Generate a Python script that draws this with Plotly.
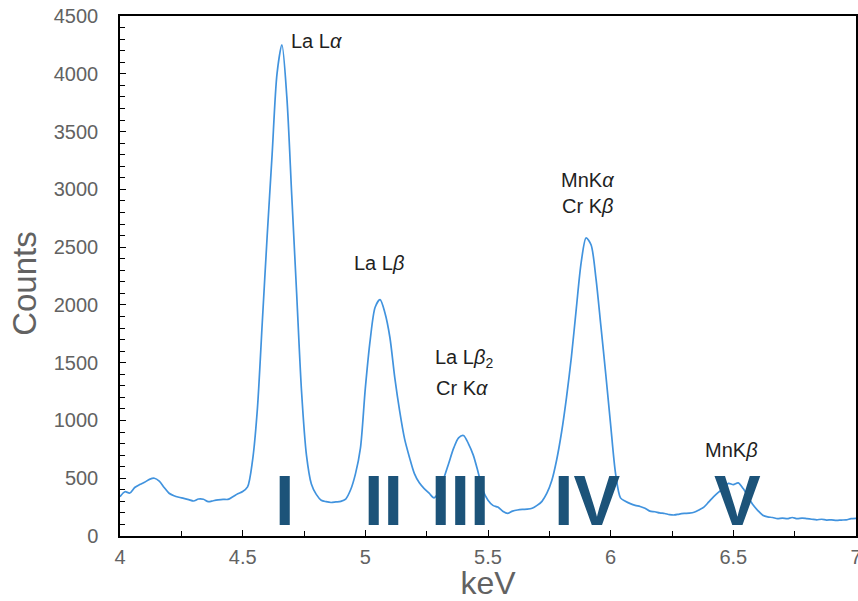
import plotly.graph_objects as go

# Energy grid (keV), sampled every 0.02 keV from 4.00 to 7.00
energy = [round(4.0 + 0.02 * i, 2) for i in range(151)]

# Counts
counts = [
    340, 383, 372, 420, 445, 465, 490, 500, 475, 420,      # 4.00-4.18
    370, 348, 335, 326, 315, 303, 320, 318, 297, 305,      # 4.20-4.38
    312, 317, 317, 340, 365, 385, 425, 650, 1100, 1850,    # 4.40-4.58
    2600, 3300, 4000, 4250, 3800, 2950, 2100, 1250, 700, 450,  # 4.60-4.78
    360, 310, 297, 290, 295, 300, 320, 400, 540, 760,      # 4.80-4.98
    1280, 1700, 1980, 2045, 1930, 1720, 1370, 1080, 840, 680,  # 5.00-5.18
    540, 460, 410, 370, 330, 385, 500, 630, 760, 850,      # 5.20-5.38
    870, 800, 700, 550, 390, 310, 265, 250, 215, 196,      # 5.40-5.58
    215, 225, 230, 232, 240, 265, 300, 370, 480, 660,      # 5.60-5.78
    900, 1200, 1550, 1970, 2370, 2580, 2520, 2230, 1820, 1400,  # 5.80-5.98
    960, 540, 330, 300, 280, 265, 255, 240, 215, 210,      # 6.00-6.18
    200, 195, 185, 182, 190, 195, 198, 205, 225, 250,      # 6.20-6.38
    295, 340, 380, 410, 455, 445, 460, 410, 340, 270,      # 6.40-6.58
    220, 180, 165, 160, 150, 155, 150, 160, 150, 155,      # 6.60-6.78
    150, 145, 140, 145, 138, 140, 135, 138, 140, 150,      # 6.80-6.98
    153,                                                   # 7.00
]

# Region numerals
region_labels = ["I", "II", "III", "IV", "V"]
region_x = [4.669, 5.074, 5.386, 5.904, 6.515]
region_y = [300, 300, 300, 300, 300]

# Peak labels
peak_labels = ["La L<i>α</i>", "La L<i>β</i>", "La L<i>β</i><sub>2</sub>", "Cr K<i>α</i>",
               "MnK<i>α</i>", "Cr K<i>β</i>", "MnK<i>β</i>"]
peak_x = [4.690, 5.056, 5.402, 5.394, 5.906, 5.904, 6.494]
peak_y = [4282, 2362, 1540, 1280, 3080, 2855, 744]
peak_anchor = ["left", "center", "center", "center", "center", "center", "center"]

FONT = "Liberation Sans, Arial, sans-serif"
GREY = "#626262"

fig = go.Figure()
fig.add_trace(go.Scatter(
    x=energy, y=counts, mode="lines",
    line=dict(color="#4193de", width=1.7, shape="spline", smoothing=0.8),
    showlegend=False, hoverinfo="skip",
))

for t, xv, yv in zip(region_labels, region_x, region_y):
    fig.add_annotation(x=xv, y=yv, text=t, showarrow=False,
                       xanchor="center", yanchor="middle",
                       font=dict(family=FONT, size=70, color="#1c5379", weight="bold"))

for t, xv, yv, a in zip(peak_labels, peak_x, peak_y, peak_anchor):
    fig.add_annotation(x=xv, y=yv, text=t, showarrow=False,
                       xanchor=a, yanchor="middle",
                       font=dict(family=FONT, size=20, color="#1f1f1f"))

# y-axis title placed as a rotated label left of the tick labels
fig.add_annotation(x=-0.129, y=0.485, xref="paper", yref="paper", text="Counts",
                   textangle=-90, showarrow=False, xanchor="center", yanchor="middle",
                   font=dict(family=FONT, size=33, color=GREY))

axis_common = dict(
    showline=True, linecolor="black", linewidth=1.5, mirror=True,
    ticks="inside", ticklen=6, tickwidth=1.2, tickcolor="black",
    showgrid=False, zeroline=False, automargin=False,
    ticklabeloverflow="allow",
    tickfont=dict(family=FONT, size=20, color=GREY),
)

fig.update_xaxes(range=[4, 7], dtick=0.5, tick0=4,
                 minor=dict(dtick=0.25, ticks="inside", ticklen=5, tickcolor="black"),
                 ticklabelstandoff=2,
                 title=dict(text="keV", font=dict(family=FONT, size=32, color=GREY), standoff=12),
                 **axis_common)
fig.update_yaxes(range=[0, 4500], dtick=500, tick0=0,
                 minor=dict(dtick=100, ticks="inside", ticklen=5, tickcolor="black"),
                 ticklabelstandoff=16,
                 **axis_common)

fig.update_layout(
    width=858, height=601,
    margin=dict(l=120, r=2, t=16, b=65),
    paper_bgcolor="white", plot_bgcolor="white",
)

fig.write_html("out.html", config={"displayModeBar": False},
               post_script="document.body.style.margin='0';document.body.style.overflow='hidden';")
